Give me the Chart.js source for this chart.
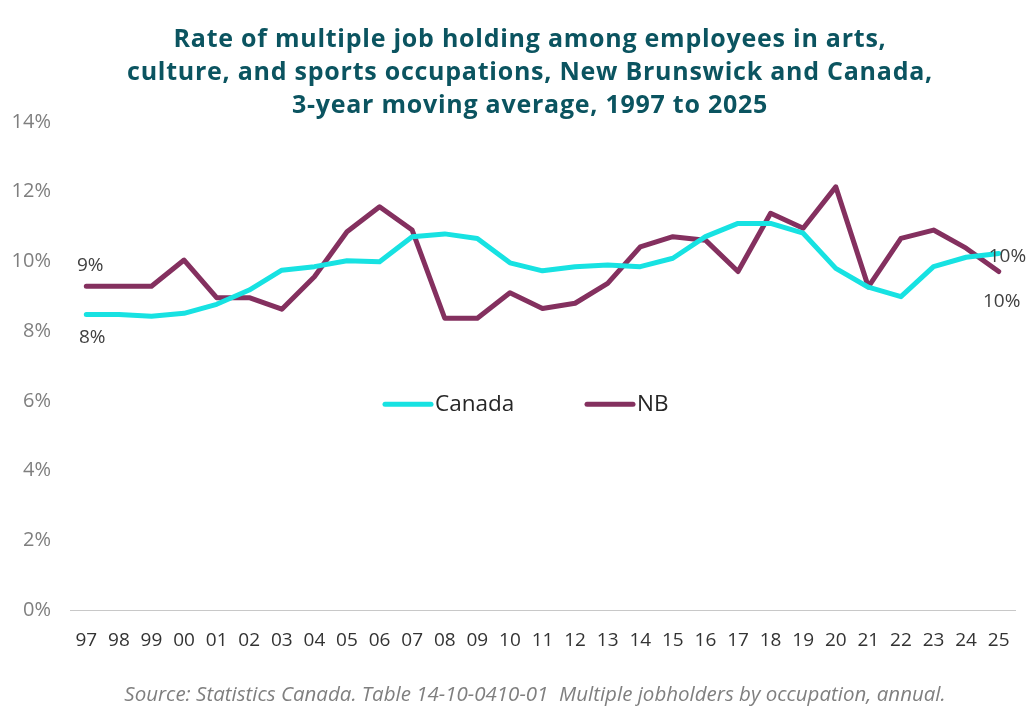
<!DOCTYPE html>
<html>
<head>
<meta charset="utf-8">
<script src="https://cdn.jsdelivr.net/npm/chart.js@4"></script>
<style>
  html, body { margin: 0; padding: 0; background: #fff; }
  #wrap { position: relative; width: 1032px; height: 716px; }
  #titulo {
    position: absolute; left: 30px; width: 1000px; top: 21px;
    text-align: center; font: bold 25px/33px "Open Sans", sans-serif; color: #0b5460; letter-spacing: 0.75px;
  }
  #fonte {
    position: absolute; left: 35px; width: 1000px; top: 680px;
    text-align: center; font: italic 20.5px/26px "Open Sans", sans-serif; color: #7f7f7f;
  }
</style>
</head>
<body>
<div id="wrap">
  <canvas id="grafico" width="1032" height="716"></canvas>
  <div id="titulo">Rate of multiple job holding among employees in arts,<br>culture, and sports occupations, New Brunswick and Canada,<br>3-year moving average, 1997 to 2025</div>
  <div id="fonte">Source: Statistics Canada. Table 14-10-0410-01&nbsp; Multiple jobholders by occupation, annual.</div>
</div>
<script>
const anos = ['97','98','99','00','01','02','03','04','05','06','07','08','09','10','11','12','13','14','15','16','17','18','19','20','21','22','23','24','25'];

const canada = [8.48, 8.48, 8.43, 8.51, 8.77, 9.18, 9.75, 9.85, 10.02, 9.99, 10.71, 10.79, 10.66, 9.96, 9.73, 9.85, 9.90, 9.85, 10.09, 10.71, 11.09, 11.09, 10.81, 9.80, 9.26, 8.99, 9.85, 10.12, 10.23];

const nb = [9.29, 9.29, 9.29, 10.04, 8.96, 8.96, 8.63, 9.56, 10.85, 11.57, 10.90, 8.37, 8.37, 9.10, 8.65, 8.80, 9.37, 10.42, 10.71, 10.61, 9.71, 11.38, 10.95, 12.14, 9.27, 10.66, 10.90, 10.38, 9.71];

const yTicks = [0, 2, 4, 6, 8, 10, 12, 14];

// rotulos de dados: serie, indice, deslocamento
const rotulos = [
  { serie: 1, idx: 0, dx: 4, dy: -21, align: 'center' },
  { serie: 0, idx: 0, dx: 6, dy: 23, align: 'center' },
  { serie: 0, idx: 28, dx: -10, dy: 3, align: 'left' },
  { serie: 1, idx: 28, dx: 3, dy: 30, align: 'center' }
];

const pluginRotulos = {
  id: 'rotulos',
  afterDatasetsDraw(chart) {
    const ctx = chart.ctx;
    ctx.save();
    ctx.font = '19px "Open Sans", sans-serif';
    ctx.fillStyle = '#404040';
    ctx.textBaseline = 'middle';
    for (const r of rotulos) {
      const pt = chart.getDatasetMeta(r.serie).data[r.idx];
      const v = chart.data.datasets[r.serie].data[r.idx];
      ctx.textAlign = r.align;
      ctx.fillText(Math.round(v) + '%', pt.x + r.dx, pt.y + r.dy);
    }
    ctx.restore();
  }
};

const pluginLegenda = {
  id: 'legendaInterna',
  afterDraw(chart) {
    const ctx = chart.ctx;
    const y = chart.scales.y.getPixelForValue(5.9);
    const itens = [{ ds: 0, x: 385 }, { ds: 1, x: 587 }];
    ctx.save();
    ctx.font = '22.5px "Open Sans", sans-serif';
    ctx.textBaseline = 'middle';
    ctx.textAlign = 'left';
    for (const it of itens) {
      const ds = chart.data.datasets[it.ds];
      ctx.strokeStyle = ds.borderColor;
      ctx.lineWidth = 5;
      ctx.lineCap = 'round';
      ctx.beginPath();
      ctx.moveTo(it.x, y);
      ctx.lineTo(it.x + 46, y);
      ctx.stroke();
      ctx.fillStyle = '#262626';
      ctx.fillText(ds.label, it.x + 50, y);
    }
    ctx.restore();
  }
};

new Chart(document.getElementById('grafico'), {
  type: 'line',
  data: {
    labels: anos,
    datasets: [
      { label: 'Canada', data: canada, borderColor: '#17e2e2', borderWidth: 5, pointRadius: 0, tension: 0, borderJoinStyle: 'round', borderCapStyle: 'round' },
      { label: 'NB', data: nb, borderColor: '#84305f', borderWidth: 5, pointRadius: 0, tension: 0, borderJoinStyle: 'round', borderCapStyle: 'round' }
    ]
  },
  options: {
    responsive: false,
    animation: false,
    layout: { padding: { left: 0, right: 17, top: 122, bottom: 56 } },
    plugins: {
      legend: { display: false },
      title: { display: false },
      tooltip: { enabled: false }
    },
    scales: {
      x: {
        offset: true,
        grid: { display: false, drawTicks: false },
        border: { display: true, color: '#c8c8c8', width: 1, dash: [2, 1] },
        ticks: { autoSkip: false, maxRotation: 0, padding: 19, color: '#333333', font: { family: 'Open Sans', size: 19 } },
        afterFit(s) { s.height = 50; }
      },
      y: {
        min: 0,
        max: 14,
        grid: { display: false, drawTicks: false },
        border: { display: false },
        afterBuildTicks(s) { s.ticks = yTicks.map(v => ({ value: v })); },
        ticks: { padding: 19, color: '#7f7f7f', font: { family: 'Open Sans', size: 20 }, callback: v => v + '%' },
        afterFit(s) { s.width = 70; }
      }
    }
  },
  plugins: [pluginRotulos, pluginLegenda]
});
</script>
</body>
</html>
